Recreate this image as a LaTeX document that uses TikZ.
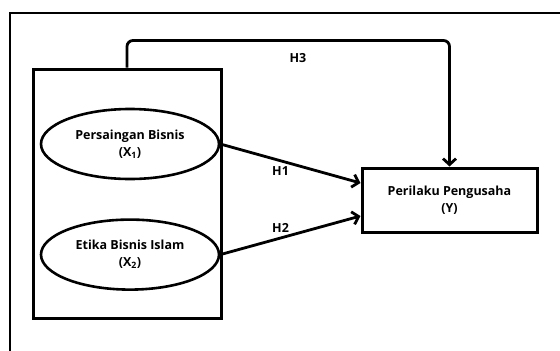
\documentclass[tikz,border=0pt]{standalone}
\usepackage{fontspec}
\setmainfont{Open Sans}[BoldFont={Open Sans Bold}]
\usepackage{tikz}
\usetikzlibrary{%
  arrows.meta,%
  positioning,% wg. " of "
  shapes.geometric% ellipse
}

\begin{document}
\begin{tikzpicture}[x=1pt, y=1pt, ->, >={Straight Barb[length=6pt,width=13pt]},
    every node/.style={font=\bfseries\fontsize{12.5}{17}\selectfont, align=center},
    latent/.style={draw, ellipse, line width=2.6pt, inner sep=0pt, minimum width=178pt, minimum height=70pt},
    groupbox/.style={draw, rectangle, line width=3pt, minimum width=188pt, minimum height=249pt},
    observed/.style={draw, rectangle, line width=3pt, minimum width=175pt, minimum height=64pt},
    link/.style={->, line width=2.8pt},
    frame/.style={-, line width=2.8pt}]
    \useasboundingbox (0,0) rectangle (560,-351);
    %outer frame
    \draw[frame] (10,-351) -- (10,-13) -- (560,-13);

    %exogenous
    \node[groupbox] (grp) at (127,-193.5) {};
    \node[latent] (x1) at (130,-144) {Persaingan Bisnis\\(X\textsubscript{1})};
    \node[latent] (x2) [below=38pt of x1] {Etika Bisnis Islam\\(X\textsubscript{2})};

    %endogenous
    \node[observed] (y) at (449.5,-200) {Perilaku Pengusaha\\(Y)};

    \path[link]
     (x1.east) edge node[pos=0.43, below=1pt] {H1} ([yshift=17pt]y.west)
     (x2.east) edge node[pos=0.43, above=1pt] {H2} ([yshift=-16pt]y.west);
    \draw[link, rounded corners=6pt] (grp.north) -- ++(0,27) -| node[pos=0.265, below=8pt] {H3} (y.north);
  \end{tikzpicture}
\end{document}
